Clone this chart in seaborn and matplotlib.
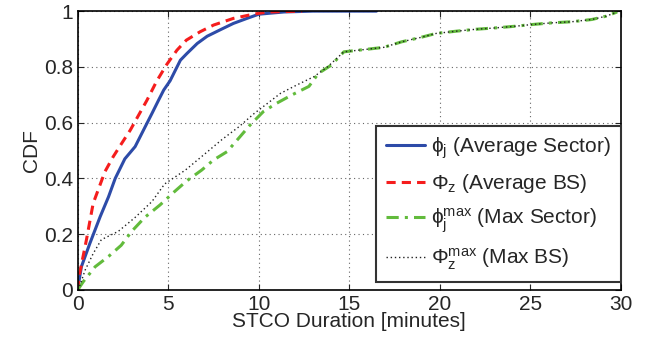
import pandas as pd
import matplotlib
matplotlib.use('Agg')
import matplotlib.pyplot as plt
import seaborn as sns
from matplotlib import rcParams

# CDF curves (x = minutes, y = CDF)
avg_sector_x = [0, 0.02, 0.2, 0.67, 1.24, 1.7, 2.07, 2.6, 3.17, 3.63, 4.1, 4.46, 4.75, 5.1, 5.67,
                6.03, 6.6, 7.15, 7.9, 8.6, 9.35, 10.0, 11.4, 13.0, 16.5]
avg_sector_y = [0, 0.012, 0.083, 0.167, 0.263, 0.334, 0.40, 0.47, 0.514, 0.573, 0.633, 0.68, 0.717, 0.75, 0.824,
                0.848, 0.884, 0.91, 0.934, 0.956, 0.974, 0.989, 0.997, 1.0, 1.0]

avg_bs_x = [0, 0.07, 0.48, 0.85, 1.5, 1.96, 2.43, 2.9, 3.26, 3.82, 4.37, 4.93, 5.48, 6.0, 6.76,
            7.5, 8.6, 9.7, 10.5, 12.4]
avg_bs_y = [0, 0.048, 0.18, 0.31, 0.424, 0.478, 0.526, 0.573, 0.615, 0.68, 0.75, 0.81, 0.86, 0.896, 0.926,
            0.95, 0.974, 0.989, 0.997, 1.0]

max_sector_x = [0, 0.31, 0.96, 1.7, 2.4, 2.98, 3.7, 4.55, 5.3, 6.0, 6.85, 7.5, 8.25, 8.97, 9.5, 10.26,
                11.0, 11.85, 12.77, 13.3, 14.0, 14.7, 15.8, 16.9, 17.9, 18.9, 19.8, 20.9, 22.0, 23.1,
                24.2, 25.1, 26.2, 27.3, 28.4, 29.2, 29.8]
max_sector_y = [0, 0.03, 0.083, 0.12, 0.16, 0.21, 0.26, 0.305, 0.35, 0.39, 0.43, 0.466, 0.496, 0.55, 0.59, 0.64,
                0.67, 0.70, 0.73, 0.777, 0.806, 0.854, 0.862, 0.87, 0.89, 0.905, 0.92, 0.928, 0.935, 0.94,
                0.946, 0.952, 0.958, 0.962, 0.97, 0.982, 0.997]

max_bs_x = [0, 0.13, 0.4, 0.85, 1.3, 2.24, 3.17, 4.1, 4.8, 5.95, 7.06, 7.98, 8.9, 9.75, 10.5, 11.2,
            12.1, 13.05, 13.8, 14.7, 15.8, 16.9, 17.9, 18.9, 19.8, 20.9, 22.0, 23.1, 24.2, 25.1,
            26.2, 27.3, 28.4, 29.2, 29.8]
max_bs_y = [0, 0.018, 0.07, 0.13, 0.18, 0.21, 0.26, 0.317, 0.38, 0.43, 0.49, 0.54, 0.585, 0.633, 0.67, 0.705,
            0.735, 0.765, 0.80, 0.854, 0.862, 0.87, 0.89, 0.905, 0.92, 0.928, 0.935, 0.94, 0.946, 0.952,
            0.958, 0.962, 0.97, 0.982, 0.997]

labels = [r'$\mathrm{\phi}_\mathrm{j}$ (Average Sector)', r'$\mathrm{\Phi}_\mathrm{z}$ (Average BS)',
          r'$\mathrm{\phi}_\mathrm{j}^\mathrm{max}$ (Max Sector)', r'$\mathrm{\Phi}_\mathrm{z}^\mathrm{max}$ (Max BS)']
x_ticks = [0, 5, 10, 15, 20, 25, 30]
y_ticks = [0, 0.2, 0.4, 0.6, 0.8, 1]
y_ticklabels = ['0', '0.2', '0.4', '0.6', '0.8', '1']

sns.set_style('ticks')
config = {
    "font.family": ['Liberation Sans', 'DejaVu Sans'],
    "font.size": 14,
    "mathtext.fontset": 'custom',
    "mathtext.rm": 'Liberation Sans',
    "mathtext.it": 'Liberation Sans:italic',
    "mathtext.bf": 'Liberation Sans:bold',
    "xtick.direction": 'in',
    "ytick.direction": 'in',
}
rcParams.update(config)

fig, ax = plt.subplots(1, 1, figsize=(6.59, 3.48), dpi=100)
fig.subplots_adjust(left=0.118, right=0.942, top=0.968, bottom=0.167)

series = [
    (avg_sector_x, avg_sector_y, '#2d4ba8', '-', 2.2),
    (avg_bs_x, avg_bs_y, '#f51d1d', (0, (3, 2)), 2.2),
    (max_sector_x, max_sector_y, '#62bb3c', (0, (4, 2, 1, 2)), 2.2),
    (max_bs_x, max_bs_y, '#222222', (0, (1, 2)), 1.0),
]
for (xs, ys, c, ls, lw), lab in zip(series, labels):
    df = pd.DataFrame({'x': xs, 'y': ys})
    sns.lineplot(data=df, x='x', y='y', ax=ax, color=c, linestyle=ls, linewidth=lw,
                 estimator=None, sort=False, label=lab)

ax.set_xlim(0, 30)
ax.set_ylim(0, 1)
ax.set_xticks(x_ticks)
ax.set_yticks(y_ticks)
ax.set_yticklabels(y_ticklabels)
ax.tick_params(labelsize=15, top=True, right=True, length=4)
ax.grid(True, linestyle=(0, (1, 3)), color='#666666', linewidth=0.8)
for s in ax.spines.values():
    s.set_color('black')
    s.set_linewidth(1.2)
ax.set_xlabel('STCO Duration [minutes]', fontsize=15, labelpad=-1)
ax.set_ylabel('CDF', fontsize=15, labelpad=2)

leg = ax.legend(loc='lower right', bbox_to_anchor=(1.0, 0.03), fontsize=15, frameon=True,
                fancybox=False, edgecolor='#333333', framealpha=1, handlelength=1.9,
                borderpad=0.45, labelspacing=0.55, handletextpad=0.3, borderaxespad=0)
leg.get_frame().set_linewidth(1.5)

fig.savefig('out.png', dpi=100)
